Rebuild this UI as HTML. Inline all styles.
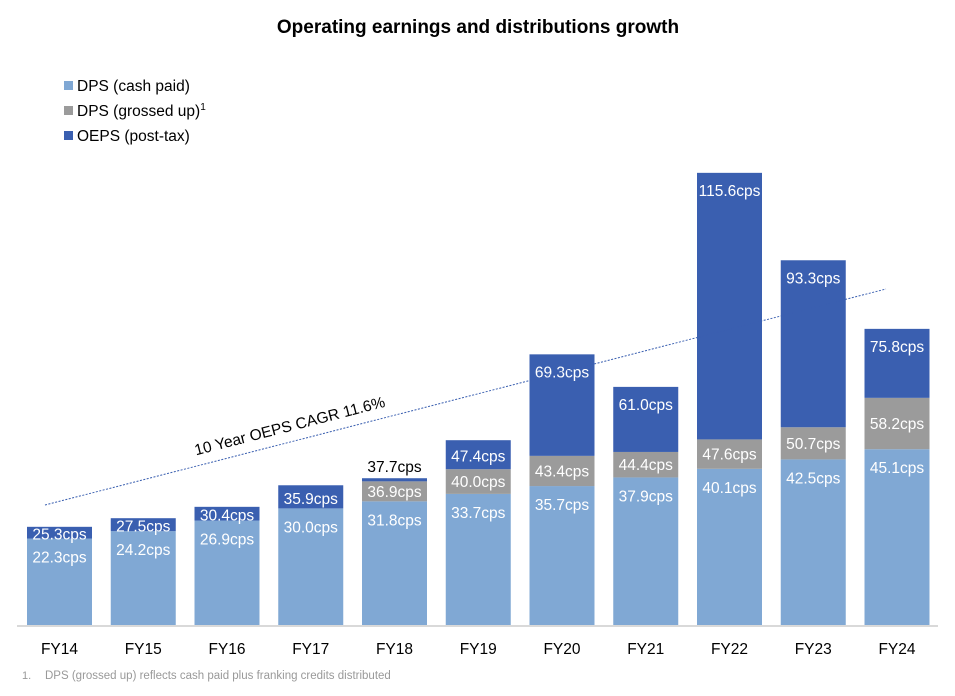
<!DOCTYPE html>
<html><head><meta charset="utf-8"><style>
body{margin:0;background:#fff;font-family:"Liberation Sans",sans-serif}
svg text{font-family:"Liberation Sans",sans-serif}
</style></head><body>
<svg width="955" height="691" viewBox="0 0 955 691" id="chart">
<text x="478" y="33" text-anchor="middle" font-size="19" font-weight="bold" fill="#000">Operating earnings and distributions growth</text>
<g>
<rect x="64" y="81" width="9" height="9" fill="#80a8d4"/>
<text x="77" y="91" font-size="15.5">DPS (cash paid)</text>
<rect x="64" y="106" width="9" height="9" fill="#9b9b9b"/>
<text x="77" y="116" font-size="15.5">DPS (grossed up)<tspan font-size="10" dy="-6">1</tspan></text>
<rect x="64" y="131" width="9" height="9" fill="#3a5fb0"/>
<text x="77" y="141" font-size="15.5">OEPS (post-tax)</text>
</g>
<g id="bars"></g>
<line x1="17" y1="626" x2="938" y2="626" stroke="#d9d9d9" stroke-width="2"/>
<line x1="45" y1="505" x2="886" y2="289" stroke="#3a5fb0" stroke-width="1" stroke-dasharray="2,1.5"/>
<text transform="translate(291,431) rotate(-14.4)" text-anchor="middle" font-size="15.5">10 Year OEPS CAGR 11.6%</text>
<text x="22" y="679" font-size="11" fill="#999">1.</text>
<text x="45" y="679" font-size="11.5" fill="#999">DPS (grossed up) reflects cash paid plus franking credits distributed</text>
</svg>
<script>
const categories=["FY14","FY15","FY16","FY17","FY18","FY19","FY20","FY21","FY22","FY23","FY24"];
const dpsCash=[22.3,24.2,26.9,30.0,31.8,33.7,35.7,37.9,40.1,42.5,45.1];
const dpsGrossed=[null,null,null,null,36.9,40.0,43.4,44.4,47.6,50.7,58.2];
const oeps=[25.3,27.5,30.4,35.9,37.7,47.4,69.3,61.0,115.6,93.3,75.8];
const NS="http://www.w3.org/2000/svg";
const base=626,scale=3.92,x0=59.5,step=83.75,bw=65;
const y=v=>base-v*scale;
const xc=i=>x0+i*step;
const g=document.getElementById('bars');
function rect(i,v0,v1,fill,name){
  const r=document.createElementNS(NS,'rect');
  r.setAttribute('x',xc(i)-bw/2);r.setAttribute('y',y(v1));
  r.setAttribute('width',bw);r.setAttribute('height',Math.max(0,y(v0)-y(v1)));
  r.setAttribute('fill',fill);
  
  
  g.appendChild(r);
}
function label(i,yy,txt,fill,name,fs){
  const t=document.createElementNS(NS,'text');
  t.setAttribute('x',xc(i));t.setAttribute('y',yy);
  t.setAttribute('text-anchor','middle');t.setAttribute('font-size',fs||'15.5');
  t.setAttribute('fill',fill);t.textContent=txt;
  
  
  g.appendChild(t);
}
categories.forEach((c,i)=>{
  const gr=dpsGrossed[i]==null?dpsCash[i]:dpsGrossed[i];
  rect(i,0,dpsCash[i],'#80a8d4','bar-dps-cash-'+c);
  if(gr>dpsCash[i]) rect(i,dpsCash[i],gr,'#9b9b9b','bar-dps-grossed-'+c);
  rect(i,gr,oeps[i],'#3a5fb0','bar-oeps-'+c);
  label(i,y(dpsCash[i])+24,dpsCash[i].toFixed(1)+'cps','#fff','label-dps-cash-'+c);
  if(gr>dpsCash[i]) label(i,(y(gr)+y(dpsCash[i]))/2+5.5,gr.toFixed(1)+'cps','#fff','label-dps-grossed-'+c);
  const h=y(gr)-y(oeps[i]);
  if(h<6) label(i,y(oeps[i])-6,oeps[i].toFixed(1)+'cps','#000','label-oeps-'+c);
  else label(i,h>40?y(oeps[i])+23:(y(oeps[i])+y(gr))/2+7,oeps[i].toFixed(1)+'cps','#fff','label-oeps-'+c);
  label(i,654,c,'#000','x-tick-'+c);
});
</script>
</body></html>
